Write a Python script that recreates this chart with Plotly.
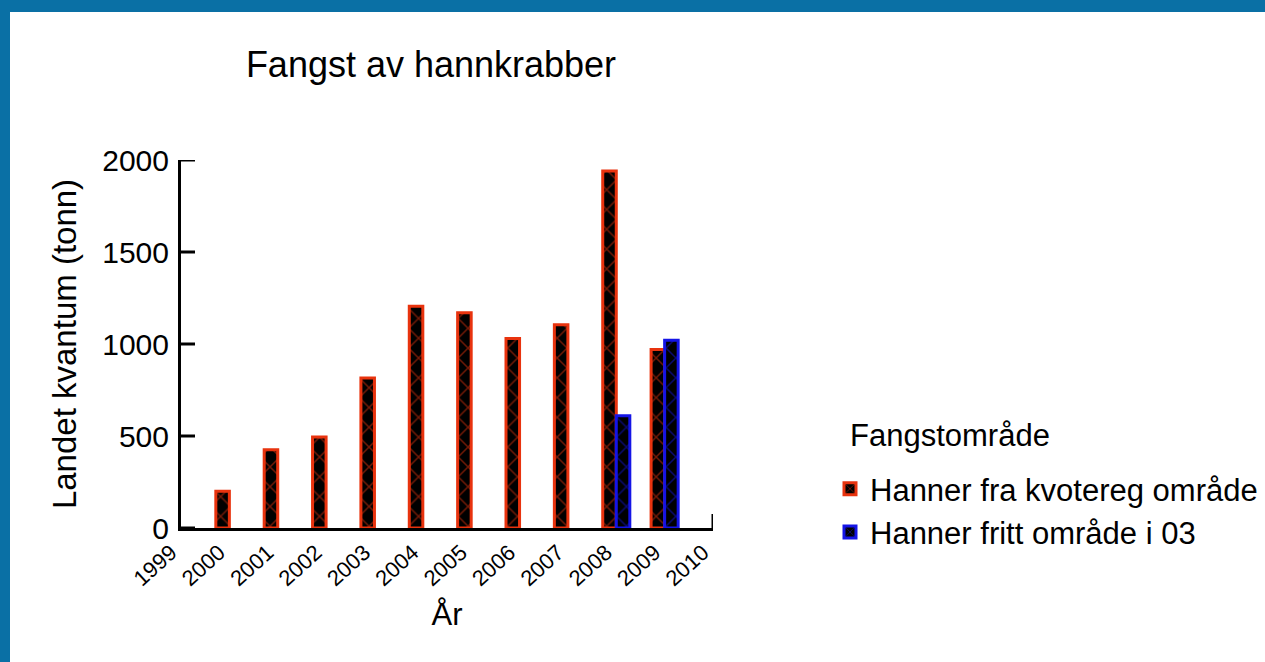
import plotly.graph_objects as go

years = [2000, 2001, 2002, 2003, 2004, 2005, 2006, 2007, 2008, 2009]
kvotereg = [200, 425, 495, 815, 1205, 1170, 1030, 1105, 1940, 970]
fritt_years = [2008, 2009]
fritt = [610, 1020]

tick_years = list(range(1999, 2011))
y_ticks = [0, 500, 1000, 1500, 2000]

RED = "#E8330E"
BLUE = "#1414E6"
FRAME = "#0A70A5"
FONT = "Arial, Liberation Sans, sans-serif"

W, H = 1265, 662
L, R, T, B = 181, 552, 160, 134
PW, PH = W - L - R, H - T - B

fig = go.Figure()
fig.add_trace(go.Bar(
    x=years, y=kvotereg, name="Hanner fra kvotereg område", offsetgroup="a",
    marker=dict(color="black", line=dict(color=RED, width=3),
                pattern=dict(shape="x", fgcolor=RED, bgcolor="black", size=14, solidity=0.2)),
))
fig.add_trace(go.Bar(
    x=fritt_years, y=fritt, name="Hanner fritt område i 03", offsetgroup="b",
    marker=dict(color="black", line=dict(color=BLUE, width=3),
                pattern=dict(shape="x", fgcolor=BLUE, bgcolor="black", size=14, solidity=0.2)),
))

shapes = [
    # blue frame (left and top strips)
    dict(type="rect", xref="paper", yref="paper", x0=-L/PW, x1=(10-L)/PW,
         y0=-B/PH, y1=(PH+T)/PH, fillcolor=FRAME, line=dict(width=0), layer="above"),
    dict(type="rect", xref="paper", yref="paper", x0=-L/PW, x1=(W-L)/PW,
         y0=(PH+T-12)/PH, y1=(PH+T)/PH, fillcolor=FRAME, line=dict(width=0), layer="above"),
    # end tick of x axis
    dict(type="line", xref="x", yref="paper", x0=tick_years[-1], x1=tick_years[-1], y0=0, y1=14/PH,
         line=dict(color="black", width=3)),
]
# inside ticks on y axis
for v in y_ticks:
    shapes.append(dict(type="line", xref="paper", yref="y", x0=0, x1=14/PW, y0=v, y1=v,
                       line=dict(color="black", width=3), layer="above"))

fig.update_layout(
    width=W, height=H,
    margin=dict(l=L, r=R, t=T, b=B, autoexpand=False),
    paper_bgcolor="white",
    plot_bgcolor="white",
    barmode="group", bargap=0.44, bargroupgap=0,
    font=dict(family=FONT, color="black", size=28),
    title=dict(text="Fangst av hannkrabber", x=431/W, xanchor="center",
               y=1-64/H, yanchor="middle", font=dict(size=36, family=FONT)),
    showlegend=True,
    legend=dict(x=(830-L)/PW, xanchor="left", y=(528-462)/PH, yanchor="top",
                bgcolor="rgba(0,0,0,0)", font=dict(size=31),
                itemwidth=30, tracegroupgap=0),
    annotations=[dict(text="Fangstområde", xref="paper", yref="paper",
                      x=(848-L)/PW, xanchor="left", y=(528-435)/PH, yanchor="middle",
                      showarrow=False, font=dict(size=31))],
    shapes=shapes,
)
fig.update_xaxes(
    range=[tick_years[0], tick_years[-1]], tickvals=tick_years, ticktext=[str(t) for t in tick_years],
    tickangle=-42, tickfont=dict(size=22), showgrid=False, zeroline=False,
    showline=True, linecolor="black", linewidth=3, ticks="", ticklabelshift=-10,
    title=dict(text="År", font=dict(size=31), standoff=14),
)
fig.update_yaxes(
    range=[0, 2000], tickvals=y_ticks, showgrid=False, zeroline=False,
    showline=True, linecolor="black", linewidth=3, ticks="",
    tickfont=dict(size=30), ticklabelstandoff=3,
    title=dict(text="Landet kvantum (tonn)", font=dict(size=33), standoff=16),
)

fig.write_html("out.html", post_script="document.body.style.margin='0';",
               config={"displayModeBar": False})
